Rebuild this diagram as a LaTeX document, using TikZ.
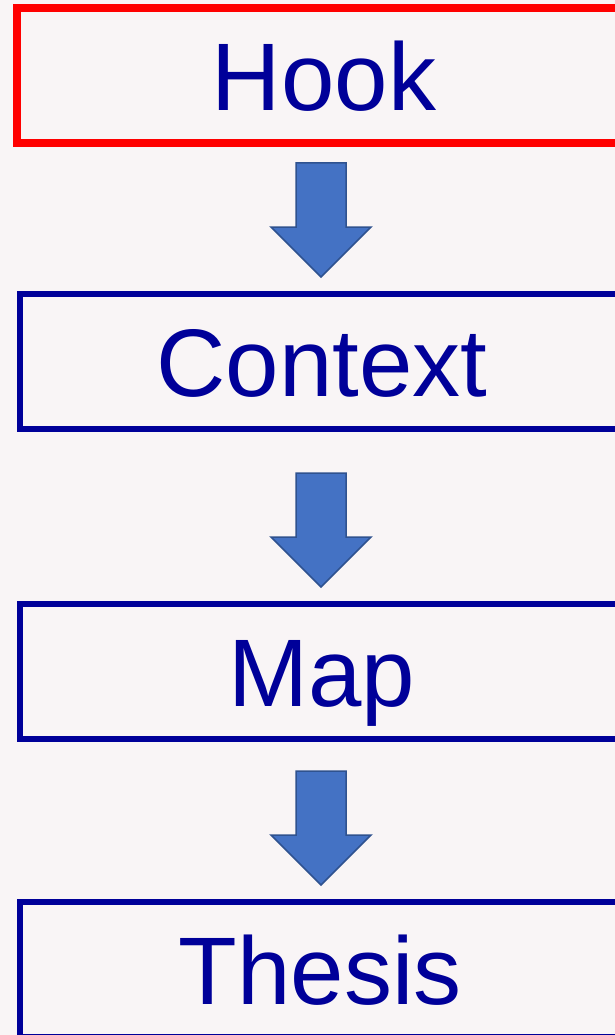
\documentclass[tikz,border=0pt]{standalone}
\usepackage{fontspec}
\setmainfont{Liberation Sans}
\definecolor{bg}{HTML}{F9F5F6}
\definecolor{navy}{HTML}{000099}
\definecolor{arrowfill}{HTML}{4472C4}
\definecolor{arrowline}{HTML}{2F528F}
\tikzset{
  box/.style={draw=navy, line width=6pt, rectangle, minimum height=135pt, inner sep=0pt, outer sep=0pt},
  hookbox/.style={box, draw=red, line width=8pt},
  lbl/.style={text=navy, anchor=base, inner sep=0pt, font=\fontsize{96}{110}\selectfont},
  blockarrow/.pic={
    \path[fill=arrowfill, draw=arrowline, line width=1.5pt, line join=miter]
      (-25,0) -- (25,0) -- (25,64) -- (50,64) -- (0,114) -- (-50,64) -- (-25,64) -- cycle;
  }
}
\begin{document}
\begin{tikzpicture}[x=1pt, y=-1pt]
\path[fill=bg] (0,0) rectangle (615,1035);
\useasboundingbox (0,0) rectangle (615,1035);
\clip (0,0) rectangle (615,1035);
\node[hookbox, minimum width=614pt] (hook) at (324,75.5) {};
\node[box, minimum width=605.5pt] (context) at (322.25,361.5) {};
\node[box, minimum width=605.5pt] (map) at (322.25,671.5) {};
\node[box, minimum width=605.5pt] (thesis) at (322.25,969.5) {};
\node[lbl] (hookt) at (324,111) {Hook};
\node[lbl] (contextt) at (322,396) {Context};
\node[lbl] (mapt) at (321.5,706) {Map};
\node[lbl] (thesist) at (320,1004) {Thesis};
\pic at (321,163) {blockarrow};
\pic at (321,473) {blockarrow};
\pic at (321,771) {blockarrow};
\end{tikzpicture}
\end{document}
